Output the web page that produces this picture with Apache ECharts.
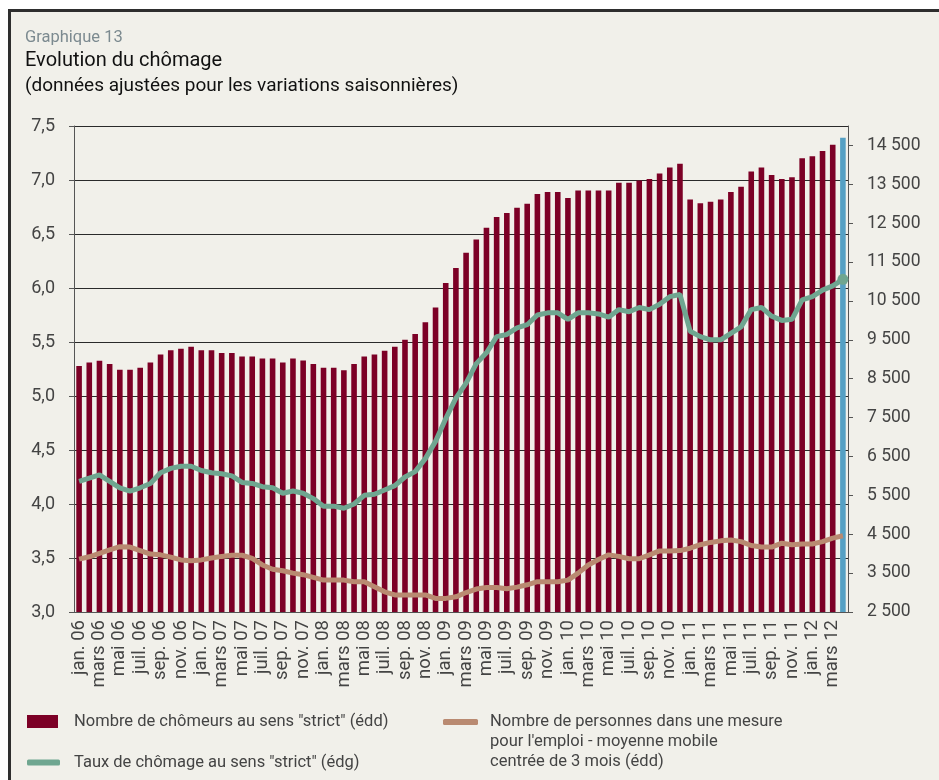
<!DOCTYPE html>
<html>
<head>
<meta charset="utf-8">
<script src="https://cdn.jsdelivr.net/npm/echarts@6/dist/echarts.min.js"></script>
<style>
    html, body { margin: 0; padding: 0; background: #fff; }
    #container_chart { width: 939px; height: 780px; }
</style>
</head>
<body>
<div id="container_chart"></div>
<script>
// mois affichés sur l'axe (un libellé sur deux)
const monthNames = ['jan.', 'fév.', 'mars', 'avr.', 'mai', 'juin', 'juil.', 'août', 'sep.', 'oct.', 'nov.', 'déc.'];
const years = ['06', '07', '08', '09', '10', '11', '12'];
const lastMonthCount = 4; // jan. 12 -> avr. 12

// nombre de chômeurs au sens strict (échelle de droite)
const chomeurs = [
    8830, 8920, 8960, 8880, 8730, 8730, 8780, 8920, 9120, 9230, 9270, 9320,
    9230, 9230, 9160, 9160, 9070, 9070, 9020, 9020, 8920, 9020, 8970, 8880,
    8780, 8780, 8720, 8880, 9070, 9120, 9220, 9320, 9500, 9650, 9950, 10330,
    10960, 11350, 11740, 12080, 12380, 12660, 12760, 12900, 13000, 13250, 13300, 13300,
    13150, 13340, 13340, 13340, 13340, 13540, 13540, 13600, 13640, 13780, 13930, 14030,
    13110, 13010, 13050, 13110, 13300, 13440, 13830, 13930, 13740, 13640, 13680, 14170,
    14220, 14360, 14520, 14700
];

// taux de chômage au sens strict (échelle de gauche)
const taux = [
    4.21, 4.24, 4.27, 4.21, 4.15, 4.12, 4.15, 4.19, 4.29, 4.33, 4.35, 4.35,
    4.31, 4.29, 4.28, 4.26, 4.20, 4.19, 4.16, 4.15, 4.10, 4.12, 4.10, 4.05,
    3.98, 3.98, 3.96, 4.00, 4.08, 4.09, 4.13, 4.17, 4.25, 4.30, 4.42, 4.58,
    4.79, 4.98, 5.12, 5.30, 5.40, 5.55, 5.57, 5.63, 5.66, 5.75, 5.77, 5.77,
    5.71, 5.77, 5.77, 5.76, 5.73, 5.80, 5.78, 5.82, 5.80, 5.85, 5.92, 5.94,
    5.60, 5.55, 5.52, 5.52, 5.58, 5.64, 5.80, 5.82, 5.74, 5.70, 5.71, 5.89,
    5.92, 5.98, 6.02, 6.08
];

// personnes dans une mesure pour l'emploi, moyenne mobile 3 mois (échelle de droite)
const mesures = [
    3860, 3920, 4010, 4100, 4180, 4170, 4080, 3990, 3970, 3910, 3840, 3820,
    3840, 3890, 3930, 3960, 3960, 3880, 3710, 3600, 3560, 3500, 3460, 3390,
    3320, 3320, 3320, 3280, 3280, 3150, 3020, 2940, 2940, 2940, 2940, 2850,
    2850, 2890, 3000, 3090, 3130, 3130, 3100, 3140, 3200, 3280, 3280, 3280,
    3320, 3500, 3710, 3850, 3970, 3930, 3870, 3870, 3970, 4070, 4070, 4080,
    4140, 4230, 4290, 4330, 4350, 4310, 4210, 4170, 4170, 4270, 4230, 4250,
    4250, 4310, 4400, 4460
];

const rightTicks = [2500, 3500, 4500, 5500, 6500, 7500, 8500, 9500, 10500, 11500, 12500, 13500, 14500];

const nameChomeurs = 'Nombre de chômeurs au sens "strict" (édd)';
const nameTaux = 'Taux de chômage au sens "strict" (édg)';
const nameMesures = 'Nombre de personnes dans une mesure\npour l\'emploi - moyenne mobile\ncentrée de 3 mois (édd)';

function buildMonths() {
    const months = [];
    years.forEach(function(y, yi) {
        const n = yi === years.length - 1 ? lastMonthCount : 12;
        for (let m = 0; m < n; m++) {
            months.push(monthNames[m] + ' ' + y);
        }
    });
    return months;
}

function drawChart() {
    const myChart = echarts.init(document.getElementById('container_chart'), null, {
        renderer: 'canvas'
    });
    const font = 'Roboto';
    const textGrey = '#444';
    const lastIdx = chomeurs.length - 1;

    const option = {
        backgroundColor: '#fff',
        textStyle: { fontFamily: font },
        graphic: [{
            type: 'rect',
            z: -10,
            shape: { x: 9.5, y: 10.5, width: 940, height: 780 },
            style: { fill: '#f1f0ea', stroke: '#2e2e2e', lineWidth: 3 }
        }],
        title: [{
            text: 'Graphique 13',
            left: 25, top: 29, padding: 0,
            textStyle: { fontSize: 16.5, fontWeight: 'normal', color: '#7c8a90', fontFamily: font }
        }, {
            text: 'Evolution du chômage',
            left: 25, top: 51, padding: 0,
            textStyle: { fontSize: 20, fontWeight: 'normal', color: '#111', fontFamily: font }
        }, {
            text: '(données ajustées pour les variations saisonnières)',
            left: 25, top: 77, padding: 0,
            textStyle: { fontSize: 19, fontWeight: 'normal', color: '#111', fontFamily: font }
        }],
        legend: [{
            data: [nameChomeurs],
            left: 27, top: 713, padding: 0,
            selectedMode: false,
            icon: 'rect',
            itemWidth: 31, itemHeight: 13,
            textStyle: { fontSize: 16.5, color: textGrey, fontFamily: font, padding: [0, 0, 0, 11] }
        }, {
            data: [nameTaux],
            left: 27, top: 754, padding: 0,
            selectedMode: false,
            icon: 'roundRect',
            itemWidth: 33, itemHeight: 6,
            textStyle: { fontSize: 16.5, color: textGrey, fontFamily: font, padding: [0, 0, 0, 9] }
        }, {
            data: [nameMesures],
            left: 443, top: 672, padding: 0,
            selectedMode: false,
            icon: 'roundRect',
            itemWidth: 35, itemHeight: 6,
            // deux lignes vides en tête : la première ligne du libellé se centre sur le symbole
            formatter: function(name) { return '\n\n' + name; },
            textStyle: { fontSize: 16.5, color: textGrey, fontFamily: font, lineHeight: 20, padding: [0, 0, 0, 7] }
        }],
        grid: {
            left: 74, right: 91, top: 126, bottom: 168,
            containLabel: false
        },
        xAxis: {
            type: 'category',
            data: buildMonths(),
            boundaryGap: true,
            axisLine: { lineStyle: { color: '#555', width: 1 } },
            axisTick: { interval: 1, length: 5, lineStyle: { color: '#555' } },
            axisLabel: {
                interval: 1, rotate: 90, margin: 8,
                fontSize: 18.5, color: textGrey, fontFamily: font
            },
            splitLine: { show: false }
        },
        yAxis: [{
            type: 'value',
            min: 3, max: 7.5, interval: 0.5,
            position: 'left',
            axisLine: { show: true, lineStyle: { color: '#555' } },
            axisTick: { show: true, length: 5, lineStyle: { color: '#555' } },
            axisLabel: {
                margin: 19, fontSize: 18, color: textGrey, fontFamily: font,
                formatter: function(v) { return v.toFixed(1).replace('.', ','); }
            },
            splitLine: { show: true, lineStyle: { color: '#2a2a2a', width: 1 } }
        }, {
            type: 'value',
            min: 2500, max: 15000,
            position: 'right',
            axisLine: { show: true, lineStyle: { color: '#555' } },
            axisTick: { show: true, length: 5, customValues: rightTicks, lineStyle: { color: '#555' } },
            axisLabel: {
                margin: 19, fontSize: 17.5, color: textGrey, fontFamily: font,
                customValues: rightTicks,
                formatter: function(v) { return String(v).replace(/\B(?=(\d{3})+(?!\d))/g, ' '); }
            },
            splitLine: { show: false }
        }],
        series: [{
            name: nameChomeurs,
            type: 'bar',
            yAxisIndex: 1,
            barWidth: '55%',
            itemStyle: { color: '#7c0026' },
            data: chomeurs.map(function(v, i) {
                return i === lastIdx ? { value: v, itemStyle: { color: '#55a0c4' } } : v;
            }),
            z: 2
        }, {
            name: nameMesures,
            type: 'line',
            yAxisIndex: 1,
            symbol: 'none',
            color: '#b98a71',
            lineStyle: { color: '#b98a71', width: 5 },
            data: mesures,
            z: 3
        }, {
            name: nameTaux,
            type: 'line',
            yAxisIndex: 0,
            symbol: 'none',
            showAllSymbol: true,
            color: '#6fa690',
            lineStyle: { color: '#6fa690', width: 5 },
            data: taux.map(function(v, i) {
                return i === lastIdx ? { value: v, symbol: 'circle', symbolSize: 11, itemStyle: { color: '#6fa690' } } : v;
            }),
            z: 4
        }]
    };
    myChart.setOption(option);
}

drawChart();
</script>
</body>
</html>
